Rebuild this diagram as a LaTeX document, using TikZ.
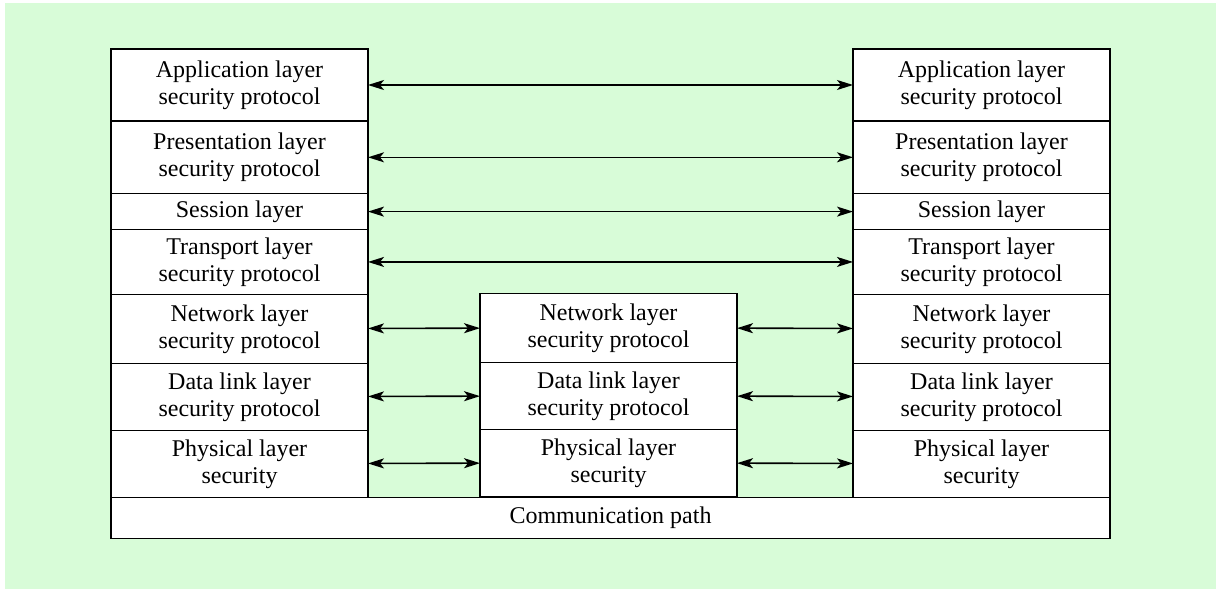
\documentclass[tikz,border=0pt]{standalone}
\usepackage{fontspec}
\setmainfont{Liberation Serif}
\usetikzlibrary{positioning,arrows.meta}
\definecolor{bggreen}{RGB}{216,252,216}

\tikzset{
  layer/.style={draw, line width=0.8pt, fill=white, minimum width=128.5pt,
    inner sep=0pt, outer sep=0pt, align=center, font=\fontsize{12}{13.5}\selectfont},
  link/.style={<->, line width=0.8pt,
    >={Stealth[length=8pt,width=5pt,inset=2pt]}}
}

\begin{document}
\begin{tikzpicture}[x=0.5pt,y=-0.5pt]
    \useasboundingbox (0,0) rectangle (1216,589);

    % Background
    \fill[bggreen] (5,3) rectangle (1216,589);

    % Left stack
    \node[layer, minimum height=36pt, anchor=north west] (lapp) at (111,49) {Application layer\\security protocol};
    \node[layer, minimum height=36.3pt, below=0pt of lapp] (lpres) {Presentation layer\\security protocol};
    \node[layer, minimum height=18pt, below=0pt of lpres] (lsess) {Session layer};
    \node[layer, minimum height=32.35pt, below=0pt of lsess] (ltrans) {Transport layer\\security protocol};
    \node[layer, minimum height=34.5pt, below=0pt of ltrans] (lnet) {Network layer\\security protocol};
    \node[layer, minimum height=33.5pt, below=0pt of lnet] (ldl) {Data link layer\\security protocol};
    \node[layer, minimum height=33.5pt, below=0pt of ldl] (lphys) {Physical layer\\security};

    % Middle stack
    \node[layer, minimum height=34.5pt, anchor=north west] (mnet) at (480,293.3) {Network layer\\security protocol};
    \node[layer, minimum height=33.5pt, below=0pt of mnet] (mdl) {Data link layer\\security protocol};
    \node[layer, minimum height=33.5pt, below=0pt of mdl] (mphys) {Physical layer\\security};

    % Right stack
    \node[layer, minimum height=36pt, anchor=north west] (rapp) at (853,49) {Application layer\\security protocol};
    \node[layer, minimum height=36.3pt, below=0pt of rapp] (rpres) {Presentation layer\\security protocol};
    \node[layer, minimum height=18pt, below=0pt of rpres] (rsess) {Session layer};
    \node[layer, minimum height=32.35pt, below=0pt of rsess] (rtrans) {Transport layer\\security protocol};
    \node[layer, minimum height=34.5pt, below=0pt of rtrans] (rnet) {Network layer\\security protocol};
    \node[layer, minimum height=33.5pt, below=0pt of rnet] (rdl) {Data link layer\\security protocol};
    \node[layer, minimum height=33.5pt, below=0pt of rdl] (rphys) {Physical layer\\security};

    % Communication path
    \node[layer, minimum width=499.5pt, minimum height=20.5pt, anchor=north west] (path) at (111,497.3) {Communication path};

    % Peer links
    \foreach \r in {app,pres,sess,trans}
        \draw[link] (l\r) -- (r\r);
    \foreach \r in {net,dl,phys} {
        \draw[link] (l\r) -- (m\r);
        \draw[link] (m\r) -- (r\r);
    }
\end{tikzpicture}
\end{document}
